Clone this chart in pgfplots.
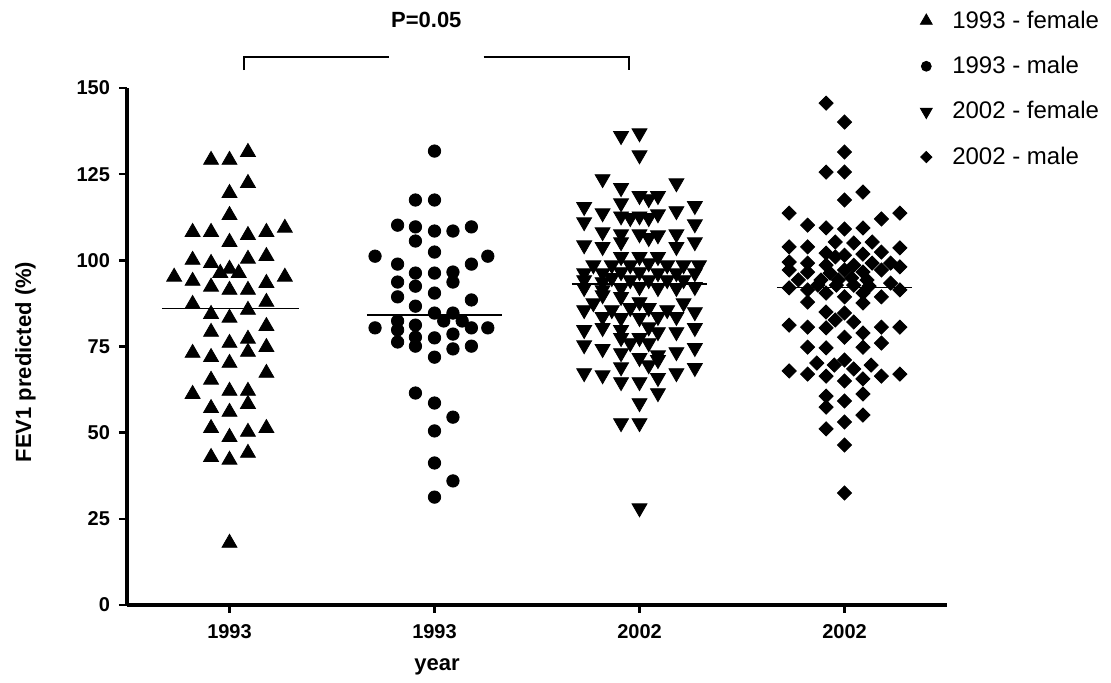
\documentclass[border=0pt]{standalone}
\usepackage{fontspec}
\setmainfont{Liberation Sans}
\usepackage{pgfplots}
\usepackage{pgfplotstable}
\pgfplotsset{compat=1.18}

\pgfplotstableread{
x y
0.91 129.1
1.00 129.1
1.09 131.4
1.09 122.4
1.00 119.5
1.00 113.1
0.82 108.2
0.91 108.2
1.27 109.4
1.18 108.2
1.09 107.3
1.00 105.3
0.82 100.1
0.91 99.2
1.09 100.4
1.18 101.2
0.73 95.2
0.82 94.0
0.955 96.3
1.00 97.5
1.045 96.3
1.27 95.2
0.91 92.3
1.00 91.4
1.09 91.4
1.18 93.4
0.82 87.3
1.18 87.9
1.09 85.6
0.91 84.4
1.00 83.3
1.18 80.9
0.91 79.2
1.00 76.0
1.09 77.2
1.18 74.8
0.82 73.1
0.91 71.9
1.00 70.2
1.09 73.4
0.91 65.3
1.18 67.3
0.82 61.2
1.00 62.1
1.09 62.1
1.09 58.3
0.91 57.1
1.00 56.0
0.91 51.3
1.00 48.7
1.09 50.2
1.18 51.3
0.91 42.9
1.00 42.1
1.09 44.1
1.00 18.0
}\femA

\pgfplotstableread{
x y
2.00 131.7
1.907 117.5
2.00 117.5
1.82 110.2
1.907 109.7
2.00 108.5
2.09 108.5
2.18 109.7
1.907 105.6
1.71 101.2
2.00 102.4
2.26 101.2
1.82 98.9
2.18 98.9
1.907 96.3
2.00 96.3
2.09 96.6
1.82 93.7
1.907 92.5
2.09 93.7
1.82 89.4
2.00 90.5
2.18 88.5
1.907 86.7
2.00 84.7
2.09 84.7
2.045 82.4
2.135 82.4
1.82 82.4
1.71 80.4
1.82 79.8
1.907 81.2
2.18 80.4
2.26 80.4
1.82 76.3
1.907 77.7
1.907 75.1
2.00 77.5
2.09 78.6
2.09 74.3
2.18 75.1
2.00 71.9
1.907 61.5
2.00 58.6
2.09 54.5
2.00 50.5
2.00 41.2
2.09 36.0
2.00 31.3
}\maleA

\pgfplotstableread{
x y
2.91 136.1
3.00 136.9
3.00 130.5
2.82 123.6
3.18 122.4
2.91 121.0
3.00 118.7
3.09 118.7
3.045 117.8
2.91 116.6
2.73 115.5
3.27 115.8
2.82 113.7
3.18 114.3
2.91 112.8
2.955 112.3
3.00 112.8
3.045 112.3
3.09 113.4
2.73 111.1
3.27 110.5
2.82 108.2
2.91 107.6
3.00 107.6
3.045 106.5
3.09 107.3
3.18 107.6
2.73 104.4
2.82 103.9
2.91 105.3
3.18 103.9
3.27 105.3
2.91 101.0
3.00 101.0
3.09 101.0
2.775 98.6
2.865 98.6
2.955 98.6
3.045 99.2
3.135 98.6
3.215 98.6
3.29 98.6
2.73 96.3
2.82 96.3
2.91 96.6
3.00 96.6
3.09 96.3
3.18 96.3
3.27 96.3
2.73 94.3
2.82 93.7
2.865 94.9
2.955 94.3
3.045 94.3
3.135 94.3
3.215 94.3
2.73 92.0
2.82 91.4
2.91 92.0
3.00 92.3
3.09 92.0
3.18 92.0
3.27 92.3
2.82 89.9
2.91 89.4
2.775 87.6
3.00 87.9
3.215 87.6
2.73 85.6
2.865 85.6
2.955 86.2
3.045 86.2
3.135 85.6
3.27 85.0
2.82 83.6
2.91 83.3
3.00 83.3
3.09 83.6
3.18 83.6
2.73 79.8
2.82 80.4
2.91 79.8
3.045 80.6
3.09 79.2
3.18 79.2
3.27 80.4
2.91 77.5
2.955 76.0
3.00 77.5
3.045 76.0
2.73 75.4
2.82 74.3
2.91 73.1
3.09 72.5
3.18 73.4
3.27 74.6
3.00 71.7
3.09 71.1
2.91 69.0
3.045 69.6
2.73 67.3
2.82 66.7
2.91 64.7
3.00 64.7
3.09 65.9
3.18 67.3
3.27 68.8
3.09 61.5
3.00 58.6
2.91 52.8
3.00 52.8
3.00 28.1
}\femB

\pgfplotstableread{
x y
3.91 145.6
4.00 140.1
4.00 131.4
3.91 125.6
4.00 125.6
4.09 119.8
4.00 117.5
3.73 113.7
4.27 113.7
4.18 112.0
3.82 110.2
3.91 109.4
4.00 109.1
4.09 109.4
3.955 105.3
4.045 105.0
4.135 105.3
3.73 103.9
3.82 103.9
3.91 102.1
4.18 102.4
4.27 103.6
4.00 101.5
4.09 101.8
3.73 99.5
3.82 99.2
3.955 101.0
4.045 98.6
4.135 99.2
4.225 99.2
3.73 97.2
3.82 96.6
3.91 98.6
4.09 96.6
4.18 97.2
4.27 98.1
3.93 96.3
4.00 97.2
3.885 94.3
3.775 94.3
3.97 94.3
4.035 94.9
4.11 94.3
3.87 92.8
3.96 92.8
4.045 92.8
4.12 92.5
4.225 93.4
3.73 92.0
3.82 91.4
4.27 91.4
3.91 90.5
4.00 89.4
4.09 90.5
4.18 89.4
3.82 87.9
4.09 87.6
3.91 85.0
4.00 84.7
3.955 82.7
4.045 82.1
3.73 81.2
3.82 80.6
3.91 80.4
4.18 80.6
4.27 80.6
4.09 78.9
4.00 77.7
4.18 76.0
3.82 74.8
3.91 74.6
4.09 74.8
3.865 70.2
3.95 69.6
4.00 71.1
4.045 68.5
4.13 69.6
3.73 67.9
3.82 67.0
3.91 66.4
4.00 65.0
4.09 65.6
4.18 66.4
4.27 67.0
3.91 60.6
3.91 57.4
4.00 59.2
4.09 61.2
4.00 53.1
4.09 55.1
3.91 51.1
4.00 46.4
4.00 32.5
}\maleB

\begin{document}
\begin{tikzpicture}[x=1pt,y=1pt]
\path[use as bounding box] (0,0) rectangle (555.5,341.5);
\begin{axis}[
  at={(63.5pt,39pt)}, anchor=south west,
  scale only axis, width=410pt, height=258.5pt,
  xmin=0.5, xmax=4.5, ymin=0, ymax=150,
  clip=false,
  axis lines*=left,
  axis line style={line width=1.8pt, -},
  xtick={1,2,3,4},
  xticklabels={1993,1993,2002,2002},
  ytick={0,25,50,75,100,125,150},
  tick style={line width=1.2pt, black},
  tick align=outside,
  major tick length=4pt,
  /pgf/number format/assume math mode=true,
  tick label style={font=\bfseries\fontsize{10}{12}\selectfont},
  xticklabel style={yshift=-2pt},
  yticklabel style={xshift=-1pt},
  xlabel={\bfseries year},
  ylabel={\bfseries FEV1 predicted (\%)},
  every axis x label/.style={at={(axis description cs:0.378,-0.12)},anchor=center,font=\fontsize{11}{13}\selectfont},
  every axis y label/.style={at={(axis description cs:-0.124,0.47)},rotate=90,anchor=center,font=\fontsize{11}{13}\selectfont},
  legend style={at={(0.967,1.158)}, anchor=north west, draw=none, fill=none,
    font=\fontsize{12}{14}\selectfont, row sep=8.5pt, inner sep=0pt,
    cells={anchor=west},
    /tikz/every odd column/.append style={column sep=8pt}},
  legend image post style={scale=0.8},
]
\addplot[only marks, mark=triangle*, mark size=4.3pt, black] table[x=x,y=y]{\femA};
\addlegendentry{1993 - female}
\addplot[only marks, mark=*, mark size=3.1pt, black] table[x=x,y=y]{\maleA};
\addlegendentry{1993 - male}
\addplot[only marks, mark=triangle*, mark size=4.3pt, mark options={rotate=180}, black] table[x=x,y=y]{\femB};
\addlegendentry{2002 - female}
\addplot[only marks, mark=square*, mark size=2.5pt, mark options={rotate=45}, black] table[x=x,y=y]{\maleB};
\addlegendentry{2002 - male}
% group means
\addplot[black, line width=0.7pt, forget plot] coordinates {(0.67,86.0) (1.34,86.0)};
\addplot[black, line width=0.7pt, forget plot] coordinates {(1.67,84.1) (2.33,84.1)};
\addplot[black, line width=0.7pt, forget plot] coordinates {(2.67,93.1) (3.33,93.1)};
\addplot[black, line width=0.7pt, forget plot] coordinates {(3.67,92.2) (4.33,92.2)};
% significance bracket
\draw[line width=1.2pt] (axis cs:1.07,155.2) -- (axis cs:1.07,159) -- (axis cs:1.78,159);
\draw[line width=1.2pt] (axis cs:2.24,159) -- (axis cs:2.95,159) -- (axis cs:2.95,155.2);
\node[font=\bfseries\fontsize{11}{13}\selectfont] at (axis cs:1.96,169.7) {P=0.05};
\end{axis}
\end{tikzpicture}
\end{document}
